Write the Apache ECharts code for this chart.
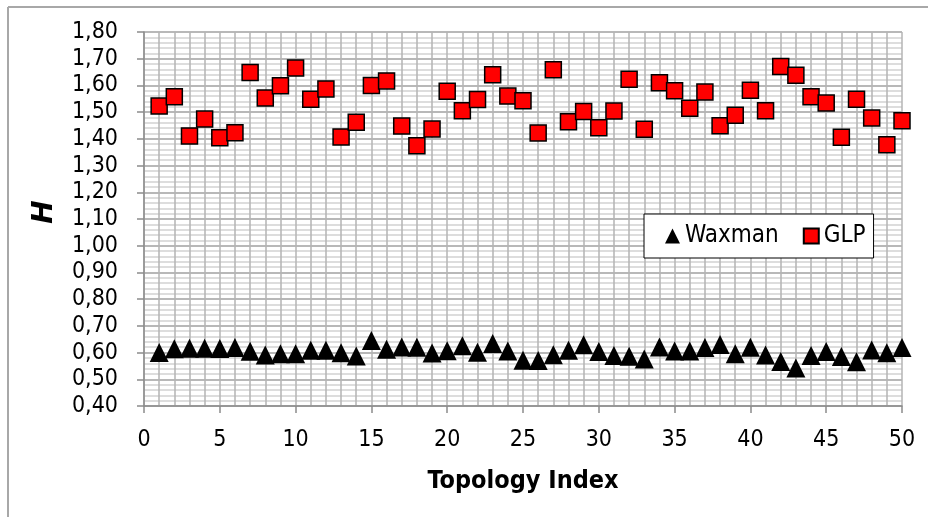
<!DOCTYPE html>
<html><head><meta charset="utf-8">
<script src="https://cdn.jsdelivr.net/npm/echarts@6/dist/echarts.min.js"></script>
<style>html,body{margin:0;padding:0;background:#fff}#c{width:928px;height:517px}</style>
</head><body><div id="c"></div>
<script>
const topologyIndex = [1,2,3,4,5,6,7,8,9,10,11,12,13,14,15,16,17,18,19,20,21,22,23,24,25,26,27,28,29,30,31,32,33,34,35,36,37,38,39,40,41,42,43,44,45,46,47,48,49,50];
const waxman = [0.600,0.614,0.616,0.616,0.615,0.619,0.605,0.591,0.596,0.596,0.609,0.609,0.599,0.587,0.645,0.612,0.621,0.620,0.598,0.607,0.626,0.601,0.634,0.606,0.571,0.570,0.592,0.609,0.629,0.604,0.589,0.586,0.576,0.621,0.606,0.606,0.619,0.630,0.596,0.620,0.591,0.567,0.542,0.589,0.604,0.585,0.566,0.610,0.599,0.619];
const glp = [1.523,1.558,1.411,1.474,1.404,1.423,1.648,1.553,1.599,1.665,1.548,1.587,1.407,1.462,1.600,1.617,1.448,1.374,1.437,1.578,1.505,1.547,1.640,1.560,1.543,1.422,1.659,1.464,1.502,1.442,1.504,1.623,1.436,1.610,1.580,1.515,1.575,1.449,1.488,1.582,1.505,1.671,1.638,1.558,1.534,1.406,1.548,1.478,1.378,1.468];
const seriesNames = ['Waxman','GLP'];
const xTitle = 'Topology Index';
const yTitle = 'H';

const chart = echarts.init(document.getElementById('c'));
const font = '"DejaVu Sans Condensed", "DejaVu Sans", sans-serif';
chart.setOption({
  animation: false,
  backgroundColor: '#fff',
  grid: {left: 144, right: 26, top: 32, bottom: 111, show: false, containLabel: false, outerBoundsMode: 'none'},
  legend: {
    left: 644, top: 214, width: 229, height: 43,
    padding: [10, 8, 10, 21],
    backgroundColor: '#fff', borderColor: '#000', borderWidth: 1,
    itemWidth: 15, itemHeight: 15, itemGap: 24,
    textStyle: {fontFamily: font, fontSize: 24, color: '#000', padding: [0,0,0,0]},
    data: [{name: seriesNames[0], icon: 'triangle'}, {name: seriesNames[1], icon: 'rect'}]
  },
  xAxis: {
    type: 'value', min: 0, max: 50, interval: 5,
    name: xTitle, nameLocation: 'middle', nameGap: 63,
    nameTextStyle: {fontFamily: font, fontWeight: 'bold', fontSize: 25, color: '#000'},
    axisLine: {show: true, onZero: false, lineStyle: {color: '#8c8c8c', width: 1.5}},
    axisTick: {show: true, length: 7, lineStyle: {color: '#8c8c8c', width: 1.5}},
    axisLabel: {fontFamily: font, fontSize: 23, color: '#000', margin: 23},
    splitLine: {show: true, lineStyle: {color: '#b4b4b4', width: 1.5}},
    minorTick: {show: false, splitNumber: 5},
    minorSplitLine: {show: true, lineStyle: {color: '#b4b4b4', width: 1.5}}
  },
  yAxis: {
    type: 'value', min: 0.4, max: 1.8, interval: 0.1,
    axisLine: {show: true, lineStyle: {color: '#8c8c8c', width: 1.5}},
    axisTick: {show: true, length: 7, lineStyle: {color: '#8c8c8c', width: 1.5}},
    axisLabel: {fontFamily: font, fontSize: 23, color: '#000', margin: 26,
      formatter: v => v.toFixed(2).replace('.', ',')},
    splitLine: {show: true, lineStyle: {color: '#a0a0a0', width: 1.5}},
    minorTick: {show: false, splitNumber: 5},
    minorSplitLine: {show: true, lineStyle: {color: '#d2d2d2', width: 1.5}}
  },
  series: [
    {name: seriesNames[0], type: 'scatter', symbol: 'triangle', symbolSize: [19, 19],
     itemStyle: {color: '#000', opacity: 1},
     data: topologyIndex.map((x, i) => [x, waxman[i]])},
    {name: seriesNames[1], type: 'scatter', symbol: 'rect', symbolSize: 16,
     itemStyle: {color: '#ff0000', borderColor: '#000', borderWidth: 1.5, opacity: 1},
     data: topologyIndex.map((x, i) => [x, glp[i]])}
  ],
  graphic: [
    {type: 'line', shape: {x1: 8, y1: 7, x2: 928, y2: 7}, style: {stroke: '#a8a8a8', lineWidth: 2}},
    {type: 'line', shape: {x1: 8, y1: 7, x2: 8, y2: 517}, style: {stroke: '#a8a8a8', lineWidth: 2}},
    {type: 'text', x: 45, y: 212, rotation: Math.PI / 2,
     style: {text: yTitle, fontFamily: '"DejaVu Sans", sans-serif', fontWeight: 'bold', fontStyle: 'italic',
             fontSize: 28, fill: '#000', align: 'center', verticalAlign: 'middle'}}
  ]
});
</script></body></html>
